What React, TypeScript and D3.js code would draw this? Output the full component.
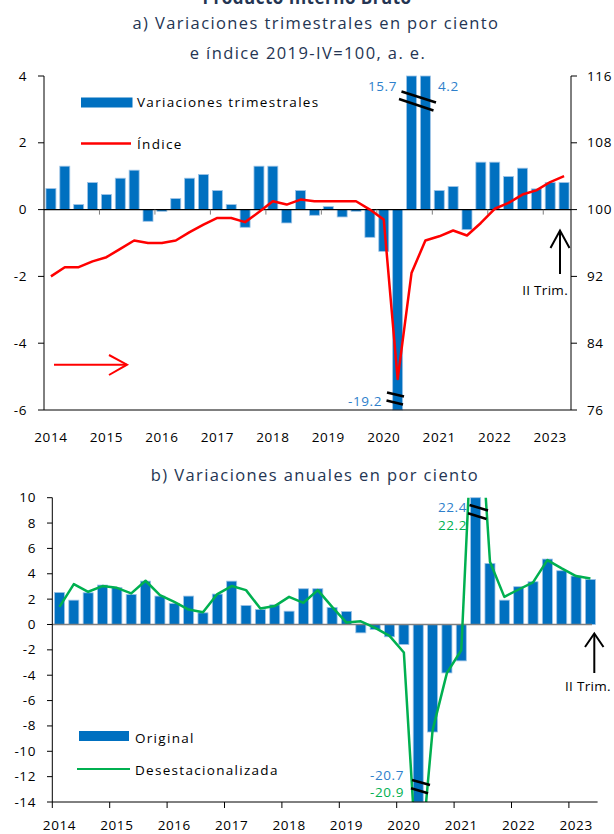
import React from "react";
import * as d3 from "d3";

// ---------- DATA ----------
const years = ["2014","2015","2016","2017","2018","2019","2020","2021","2022","2023"];
const quarters = years.flatMap((y) => ["I","II","III","IV"].map((q) => `${y}-${q}`)).slice(0, 38);

// a) quarterly % change (s.a.)
const qoqChange = [0.63,1.30,0.15,0.81, 0.45,0.94,1.18,-0.35, -0.05,0.33,0.94,1.05, 0.57,0.15,-0.53,1.30,
  1.30,-0.40,0.57,-0.17, 0.09,-0.22,-0.05,-0.83, -1.25,-19.2,15.7,4.2, 0.57,0.69,-0.60,1.42,
  1.42,0.99,1.24,0.62, 0.81,0.81];
// a) index 2019-IV = 100 (right axis)
const indexValues = [92.0,93.1,93.1,93.8, 94.3,95.3,96.3,96.0, 96.0,96.3,97.3,98.2, 99.0,99.0,98.5,99.7,
  101.0,100.6,101.2,101.0, 101.0,101.0,101.0,100.0, 98.8,79.7,92.4,96.3, 96.8,97.5,96.9,98.4,
  100.1,100.8,101.8,102.3, 103.3,104.0];
// b) annual % change
const yoyOriginal = [2.53,1.92,2.50,3.11, 2.92,2.37,3.42,2.24, 1.66,2.24,0.92,2.40, 3.42,1.50,1.18,1.55,
  1.05,2.82,2.82,1.34, 1.03,-0.66,-0.39,-0.97, -1.58,-20.7,-8.48,-3.82, -2.87,22.4,4.82,1.92,
  2.98,3.37,5.16,4.24, 3.82,3.55];
const yoySA = [1.39,3.18,2.58,3.03, 2.89,2.45,3.45,2.32, 1.79,1.18,0.97,2.40, 3.03,2.71,1.26,1.45,
  2.18,1.71,2.71,1.39, 0.15,0.25,-0.26,-0.90, -2.21,-20.9,-8.35,-3.82, -2.03,22.2,4.95,2.18,
  2.76,3.32,5.08,4.42, 3.82,3.63];

const leftTicksA = [-6,-4,-2,0,2,4];
const rightTicksA = [76,84,92,100,108,116];
const ticksB = [-14,-12,-10,-8,-6,-4,-2,0,2,4,6,8,10];

const BLUE = "#0070C0";
const BAR_STROKE = "#9DC3E6";
const RED = "#FF0000";
const GREEN = "#00B050";
const LABEL_BLUE = "#2E7FCB";
const TITLE = "#243553";
const FONT = "'Open Sans', 'DejaVu Sans', sans-serif";

export default function App() {
  // panel a scales
  const xA = d3.scaleBand<string>().domain(quarters).range([44, 571]).paddingInner(0.28).paddingOuter(0.14);
  const yA = d3.scaleLinear().domain([-6, 4]).range([410, 76]);
  const yR = d3.scaleLinear().domain([76, 116]).range([410, 76]);
  const bwA = xA.bandwidth();
  const edgeA = (i: number) => (xA(quarters[i]) as number) - (xA.step() * 0.28) / 2;
  const cA = (i: number) => (xA(quarters[i]) as number) + bwA / 2;
  const clampA = (v: number) => Math.max(-6, Math.min(4, v));

  // panel b scales
  const xB = d3.scaleBand<string>().domain(quarters).range([52.3, 597.6]).paddingInner(0.3).paddingOuter(0.15);
  const yB = d3.scaleLinear().domain([-14, 10]).range([802, 497.7]);
  const bwB = xB.bandwidth();
  const edgeB = (i: number) => (xB(quarters[i]) as number) - (xB.step() * 0.3) / 2;
  const cB = (i: number) => (xB(quarters[i]) as number) + bwB / 2;
  const clampB = (v: number) => Math.max(-14, Math.min(10, v));

  const lineA = d3.line<number>().x((_, i) => cA(i)).y((d) => yR(d));
  const lineB = d3.line<number>().x((_, i) => cB(i)).y((d) => yB(d));

  const tickFont = { fontFamily: FONT, fontSize: 13.5, letterSpacing: 0.6, fill: "#000" } as const;
  const legFont = { fontFamily: FONT, fontSize: 13.5, letterSpacing: 1.3, fill: "#000" } as const;
  const titleFont = { fontFamily: FONT, fontSize: 16.5, letterSpacing: 1.4, fill: TITLE } as const;
  const annFont = { fontFamily: FONT, fontSize: 13.5, letterSpacing: 0.6 } as const;

  const yearIdx = years.map((_, k) => k * 4);

  return (
    <svg width={614} height={834} style={{ position: "absolute", left: 0, top: 0, background: "#fff" }}>
      <defs>
        <clipPath id="clipA"><rect x={44} y={76} width={527} height={334} /></clipPath>
        <clipPath id="clipB"><rect x={52.3} y={497.7} width={545.3} height={304.3} /></clipPath>
      </defs>

      {/* Titles */}
      <text x={307} y={4} textAnchor="middle" style={{ ...titleFont, fontWeight: 700, fontSize: 17, letterSpacing: 0.5 }}>Producto Interno Bruto</text>
      <text x={316} y={29} textAnchor="middle" style={titleFont}>a) Variaciones trimestrales en por ciento</text>
      <text x={308} y={59} textAnchor="middle" style={titleFont}>e índice 2019-IV=100, a. e.</text>
      <text x={315} y={481} textAnchor="middle" style={titleFont}>b) Variaciones anuales en por ciento</text>

      {/* ===== Panel a ===== */}
      <g>
        {qoqChange.map((v, i) => {
          const c = clampA(v);
          const y0 = yA(0), y1 = yA(c);
          return (
            <rect key={i} x={xA(quarters[i])} y={Math.min(y0, y1)} width={bwA} height={Math.abs(y1 - y0)}
              fill={BLUE} stroke={BAR_STROKE} strokeWidth={0.8} />
          );
        })}
        {/* zero axis */}
        <line x1={44} x2={571} y1={yA(0)} y2={yA(0)} stroke="#000" strokeWidth={1.2} />
        {yearIdx.slice(1).map((i) => (
          <line key={i} x1={edgeA(i)} x2={edgeA(i)} y1={yA(0)} y2={yA(0) + 5} stroke="#7f7f7f" strokeWidth={1} />
        ))}
        {/* index line */}
        <path d={lineA(indexValues) || ""} fill="none" stroke={RED} strokeWidth={2.5} strokeLinejoin="round" clipPath="url(#clipA)" />
        {/* axes */}
        <line x1={44} x2={44} y1={76} y2={410} stroke="#000" strokeWidth={1} />
        <line x1={571} x2={571} y1={76} y2={410} stroke="#000" strokeWidth={1} />
        <line x1={44} x2={571} y1={410} y2={410} stroke="#000" strokeWidth={1} />
        {leftTicksA.map((t) => (
          <g key={t}>
            <line x1={38} x2={44} y1={yA(t)} y2={yA(t)} stroke="#000" />
            <text x={27} y={yA(t) + 4.5} textAnchor="end" style={tickFont}>{t}</text>
          </g>
        ))}
        {rightTicksA.map((t) => (
          <g key={t}>
            <line x1={571} x2={577} y1={yR(t)} y2={yR(t)} stroke="#000" />
            <text x={587} y={yR(t) + 4.5} textAnchor="start" style={tickFont}>{t}</text>
          </g>
        ))}
        {yearIdx.map((i, k) => (
          <text key={k} x={cA(i)} y={442} textAnchor="middle" style={tickFont}>{years[k]}</text>
        ))}
        {/* breaks */}
        <line x1={401.5} y1={91.5} x2={436} y2={102.5} stroke="#000" strokeWidth={2.5} />
        <line x1={399} y1={99} x2={433.5} y2={110.5} stroke="#000" strokeWidth={2.5} />
        <line x1={387} y1={392.5} x2={404} y2={396.5} stroke="#000" strokeWidth={2.5} />
        <line x1={386.5} y1={400.5} x2={403} y2={404.5} stroke="#000" strokeWidth={2.5} />
        <text x={397} y={91} textAnchor="end" style={{ ...annFont, fill: LABEL_BLUE }}>{qoqChange[26].toFixed(1)}</text>
        <text x={438} y={91} textAnchor="start" style={{ ...annFont, fill: LABEL_BLUE }}>{qoqChange[27].toFixed(1)}</text>
        <text x={382} y={406} textAnchor="end" style={{ ...annFont, fill: LABEL_BLUE }}>{qoqChange[25].toFixed(1)}</text>
        {/* legend */}
        <rect x={81} y={97.5} width={51.5} height={10} fill={BLUE} />
        <text x={137} y={107} style={legFont}>Variaciones trimestrales</text>
        <line x1={81} x2={131} y1={143.5} y2={143.5} stroke={RED} strokeWidth={2.5} />
        <text x={137} y={149} style={legFont}>Índice</text>
        {/* red arrow */}
        <g stroke={RED} strokeWidth={2} fill="none">
          <line x1={54} x2={127} y1={364.7} y2={364.7} />
          <polyline points="109,355 127,364.7 109,375" />
        </g>
        {/* II Trim arrow */}
        <g stroke="#000" strokeWidth={2} fill="none">
          <line x1={560} x2={560} y1={274} y2={231} />
          <polyline points="550.5,248 560,230.5 569.5,248" />
        </g>
        <text x={568} y={295} textAnchor="end" style={{ ...annFont, fill: "#000", letterSpacing: 0.3 }}>II Trim.</text>
      </g>

      {/* ===== Panel b ===== */}
      <g>
        {yoyOriginal.map((v, i) => {
          const c = clampB(v);
          const y0 = yB(0), y1 = yB(c);
          return (
            <rect key={i} x={xB(quarters[i])} y={Math.min(y0, y1)} width={bwB} height={Math.abs(y1 - y0)}
              fill={BLUE} stroke={BAR_STROKE} strokeWidth={0.8} />
          );
        })}
        <line x1={52.3} x2={592} y1={yB(0)} y2={yB(0)} stroke="#808080" strokeWidth={1.5} />
        <path d={lineB(yoySA) || ""} fill="none" stroke={GREEN} strokeWidth={2.5} strokeLinejoin="round" clipPath="url(#clipB)" />
        <line x1={52.3} x2={52.3} y1={497.7} y2={802} stroke="#000" strokeWidth={1} />
        <line x1={52.3} x2={597.6} y1={802} y2={802} stroke="#000" strokeWidth={1} />
        {ticksB.map((t) => (
          <g key={t}>
            <line x1={47} x2={52.3} y1={yB(t)} y2={yB(t)} stroke="#000" />
            <text x={36} y={yB(t) + 4.5} textAnchor="end" style={tickFont}>{t}</text>
          </g>
        ))}
        {yearIdx.map((i) => (
          <line key={i} x1={edgeB(i)} x2={edgeB(i)} y1={802} y2={808} stroke="#000" />
        ))}
        {yearIdx.map((i, k) => (
          <text key={k} x={cB(i)} y={830} textAnchor="middle" style={tickFont}>{years[k]}</text>
        ))}
        {/* breaks */}
        <line x1={469.5} y1={505} x2={488} y2={510.5} stroke="#000" strokeWidth={2.5} />
        <line x1={468} y1={513.3} x2={486.5} y2={519} stroke="#000" strokeWidth={2.5} />
        <line x1={412} y1={780} x2={430} y2={785} stroke="#000" strokeWidth={2.5} />
        <line x1={411} y1={788.3} x2={428} y2={793.3} stroke="#000" strokeWidth={2.5} />
        <text x={467} y={512} textAnchor="end" style={{ ...annFont, fill: LABEL_BLUE }}>{yoyOriginal[29].toFixed(1)}</text>
        <text x={467} y={530} textAnchor="end" style={{ ...annFont, fill: GREEN }}>{yoySA[29].toFixed(1)}</text>
        <text x={404} y={780} textAnchor="end" style={{ ...annFont, fill: LABEL_BLUE }}>{yoyOriginal[25].toFixed(1)}</text>
        <text x={404} y={797} textAnchor="end" style={{ ...annFont, fill: GREEN }}>{yoySA[25].toFixed(1)}</text>
        {/* legend */}
        <rect x={79} y={731} width={50} height={10} fill={BLUE} />
        <text x={135} y={742.5} style={legFont}>Original</text>
        <line x1={77} x2={130} y1={769} y2={769} stroke={GREEN} strokeWidth={2} />
        <text x={135} y={775} style={legFont}>Desestacionalizada</text>
        {/* II Trim arrow */}
        <g stroke="#000" strokeWidth={2} fill="none">
          <line x1={594.3} x2={594.3} y1={673} y2={634} />
          <polyline points="585,647 594.3,633.5 603.5,647" />
        </g>
        <text x={565} y={691} style={{ ...annFont, fill: "#000", letterSpacing: 0.3 }}>II Trim.</text>
      </g>
    </svg>
  );
}
